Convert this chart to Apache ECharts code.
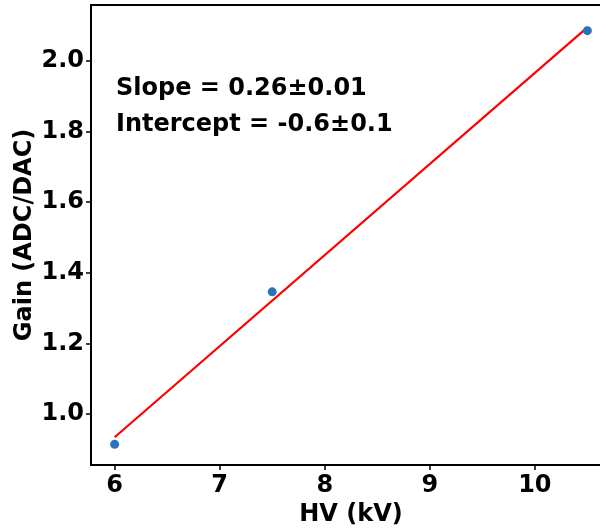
<!DOCTYPE html>
<html>
<head>
<meta charset="utf-8">
<script src="https://cdn.jsdelivr.net/npm/echarts@6/dist/echarts.min.js"></script>
<style>html,body{margin:0;padding:0;background:#fff}#c{width:600px;height:528px}</style>
</head>
<body>
<div id="c"></div>
<script>
const hv = [6, 7.5, 10.5];
const gain = [0.914, 1.346, 2.086];
const fitX = [6, 10.5];
const fitY = [0.934, 2.095];
const xTicks = [6, 7, 8, 9, 10];
const yTicks = [1.0, 1.2, 1.4, 1.6, 1.8, 2.0];
const annotation = ['Slope = 0.26\u00b10.01', 'Intercept = -0.6\u00b10.1'];

const font = 'DejaVu Sans';
const chart = echarts.init(document.getElementById('c'), null, {renderer: 'canvas'});
chart.setOption({
  animation: false,
  grid: {left: 91, top: 5, right: -11, bottom: 63, containLabel: false, outerBoundsMode: 'none',
         show: true, borderColor: '#000', borderWidth: 2, backgroundColor: 'transparent'},
  xAxis: {
    type: 'value', min: 5.775, max: 10.725, interval: 1,
    name: 'HV (kV)', nameLocation: 'middle', nameGap: 38, nameMoveOverlap: false,
    nameTextStyle: {fontFamily: font, fontWeight: 'bold', fontSize: 24, color: '#000'},
    axisLine: {show: true, lineStyle: {color: '#000', width: 2}},
    axisTick: {show: true, length: 5, lineStyle: {color: '#000', width: 1.5}, customValues: xTicks},
    axisLabel: {fontFamily: font, fontWeight: 'bold', fontSize: 24, color: '#000', margin: 9, customValues: xTicks, formatter: v => String(v)},
    splitLine: {show: false}
  },
  yAxis: {
    type: 'value', min: 0.8555, max: 2.1586,
    name: 'Gain (ADC/DAC)', nameLocation: 'middle', nameGap: 54, nameRotate: 90, nameMoveOverlap: false,
    nameTextStyle: {fontFamily: font, fontWeight: 'bold', fontSize: 24, color: '#000'},
    axisLine: {show: true, lineStyle: {color: '#000', width: 2}},
    axisTick: {show: true, length: 5, lineStyle: {color: '#000', width: 1.5}, customValues: yTicks},
    axisLabel: {fontFamily: font, fontWeight: 'bold', fontSize: 24, color: '#000', margin: 7, customValues: yTicks, formatter: v => v.toFixed(1)},
    splitLine: {show: false}
  },
  series: [
    {type: 'line', data: fitX.map((x, i) => [x, fitY[i]]), showSymbol: false, symbol: 'none',
     lineStyle: {color: '#ff0000', width: 2.2}, z: 2},
    {type: 'scatter', data: hv.map((x, i) => [x, gain[i]]), symbolSize: 9,
     itemStyle: {color: '#2a73bb', opacity: 1}, z: 3}
  ],
  graphic: [
    {type: 'text', left: 116, top: 77, style: {text: annotation[0], font: 'bold 24px "DejaVu Sans"', fill: '#000'}},
    {type: 'text', left: 116, top: 113, style: {text: annotation[1], font: 'bold 24px "DejaVu Sans"', fill: '#000'}}
  ]
});
</script>
</body>
</html>
